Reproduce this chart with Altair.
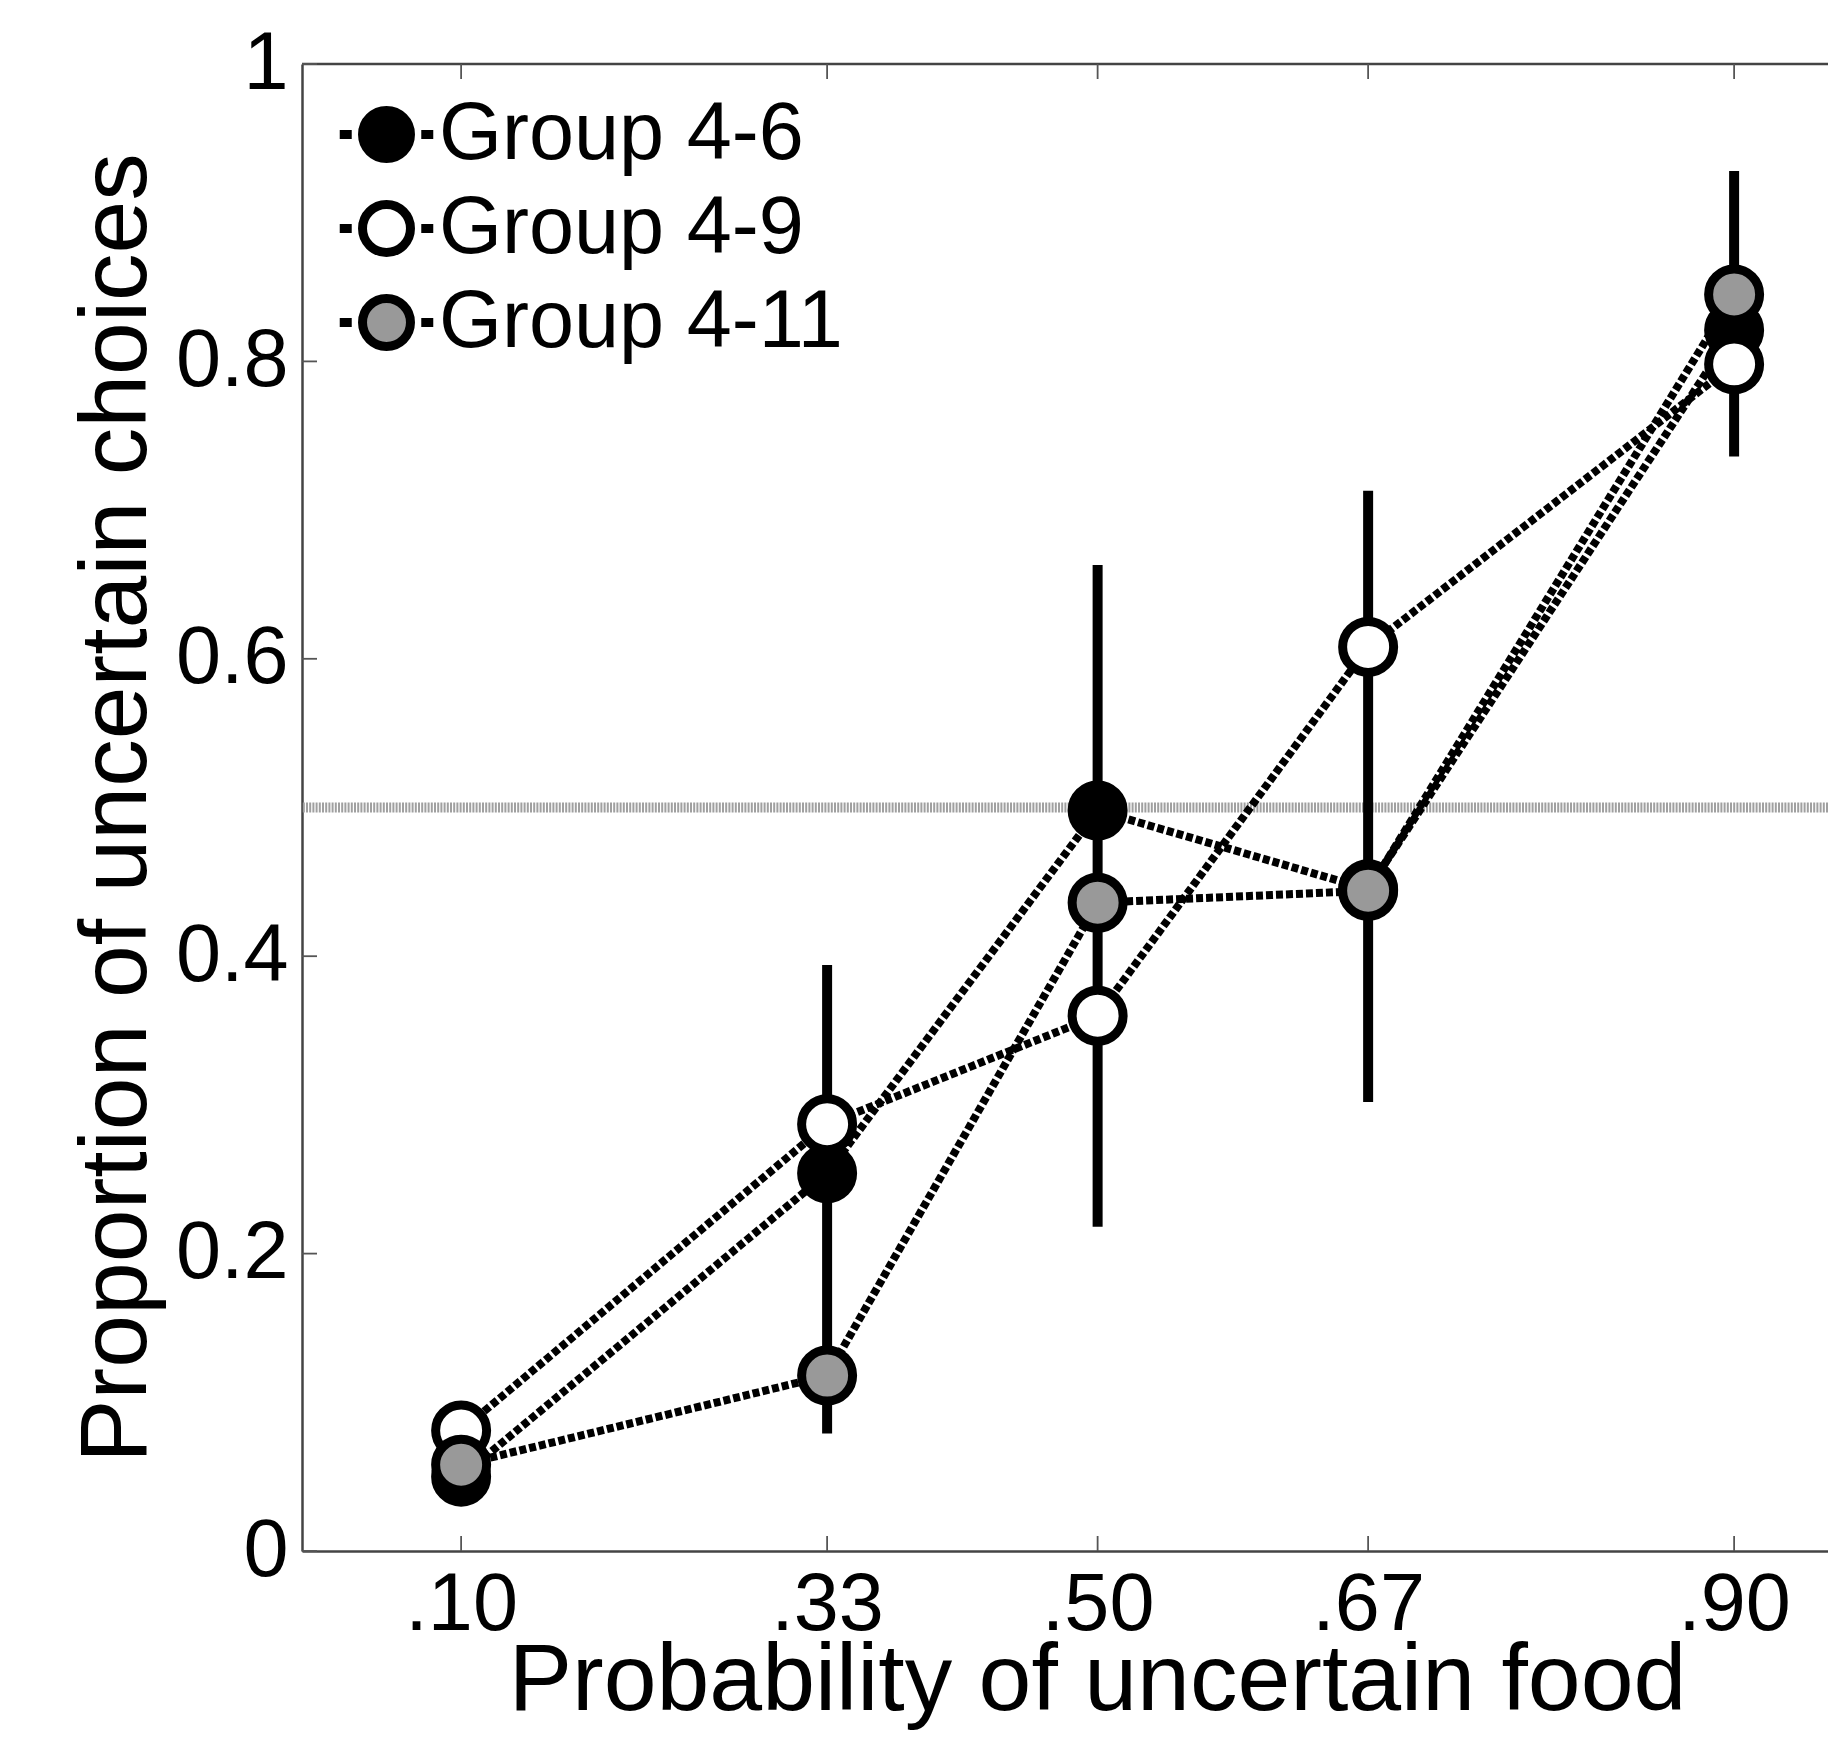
import altair as alt
import pandas as pd

# ---------------- data ----------------
prob_levels = [0.10, 0.33, 0.50, 0.67, 0.90]
groups = ["Group 4-6", "Group 4-9", "Group 4-11"]
group_fill = ["#000000", "#ffffff", "#999999"]

prop_4_6 = [0.050, 0.254, 0.498, 0.445, 0.821]
prop_4_9 = [0.081, 0.287, 0.360, 0.608, 0.798]
prop_4_11 = [0.058, 0.118, 0.436, 0.444, 0.845]

err_x = [0.33, 0.50, 0.67, 0.90]
err_low = [0.079, 0.218, 0.302, 0.736]
err_high = [0.394, 0.663, 0.713, 0.928]

y_ticks = [0.0, 0.2, 0.4, 0.6, 0.8, 1.0]
chance_level = [0.5]
top_border = [1.0]

x_title = "Probability of uncertain food"
y_title = "Proportion of uncertain choices"

# ---------------- tables ----------------
rows = []
for g, vals in zip(groups, [prop_4_6, prop_4_9, prop_4_11]):
    for p, v in zip(prob_levels, vals):
        rows.append({"group": g, "p": p, "prop": v})
df = pd.DataFrame(rows)
err_df = pd.DataFrame({"p": err_x, "prop": err_low, "hi": err_high})
xt_df = pd.DataFrame({"p": prob_levels})
yt_df = pd.DataFrame({"prop": y_ticks})
chance_df = pd.DataFrame({"prop": chance_level})
top_df = pd.DataFrame({"prop": top_border})

W, H = 1526, 1487
FONT = "Liberation Sans"
AX = "#444444"
TICK = 15

xs = alt.Scale(domain=[0, 0.959], nice=False, zero=False)
ys = alt.Scale(domain=[0, 1], nice=False, zero=False)

x_axis = alt.Axis(
    values=prob_levels,
    labelExpr="replace(format(datum.value, '.2f'), '0.', '.')",
    labelFontSize=81, labelFont=FONT, labelColor="black", labelPadding=14,
    labelFlush=False, labelOverlap=False,
    ticks=False, tickSize=0, grid=False,
    domainColor=AX, domainWidth=2.5,
    title=x_title, titleFontSize=95, titleFont=FONT, titleFontWeight="normal",
    titleColor="black", titleBaseline="alphabetic", titleAlign="center",
    titleX=795, titleY=158,
)
y_axis = alt.Axis(
    values=y_ticks, format=".1~f",
    labelFontSize=81, labelFont=FONT, labelColor="black", labelPadding=14,
    labelFlush=False, labelOverlap=False,
    ticks=False, tickSize=0, grid=False,
    domainColor=AX, domainWidth=2.5,
    title=y_title, titleFontSize=95, titleFont=FONT, titleFontWeight="normal",
    titleColor="black", titleBaseline="alphabetic", titleAngle=270,
    titleX=-157, titleY=H / 2,
)


def X(field="p"):
    return alt.X(f"{field}:Q", scale=xs, axis=x_axis)


def Y(field="prop"):
    return alt.Y(f"{field}:Q", scale=ys, axis=y_axis)


chance = alt.Chart(chance_df).mark_rule(
    color="#a0a0a0", strokeWidth=10, strokeDash=[2, 1.2]
).encode(y=Y())

top = alt.Chart(top_df).mark_rule(color=AX, strokeWidth=2.5).encode(y=Y())

xt_bottom = alt.Chart(xt_df).mark_rule(color="#555555", strokeWidth=1.8).encode(
    x=X(), y=alt.value(H), y2=alt.value(H - TICK)
)
xt_top = alt.Chart(xt_df).mark_rule(color="#555555", strokeWidth=1.8).encode(
    x=X(), y=alt.value(0), y2=alt.value(TICK)
)
yt_left = alt.Chart(yt_df).mark_rule(color="#555555", strokeWidth=1.8).encode(
    y=Y(), x=alt.value(0), x2=alt.value(TICK)
)

lines = alt.Chart(df).mark_line(
    color="black", strokeWidth=8, strokeDash=[7, 3], strokeCap="butt"
).encode(
    x=X(),
    y=Y(),
    detail="group:N",
    order="p:Q",
)

errs = alt.Chart(err_df).mark_rule(color="black", strokeWidth=10).encode(
    x=X(),
    y=Y(),
    y2="hi:Q",
)

SYMBOL = "M1,0A1,1,0,1,1,-1,0A1,1,0,1,1,1,0Z M-1.95,0L-1.45,0 M1.45,0L1.95,0"

points = alt.Chart(df).mark_point(
    shape="circle", filled=True, size=2600, stroke="black", strokeWidth=9, opacity=1
).encode(
    x=X(),
    y=Y(),
    fill=alt.Fill(
        "group:N",
        scale=alt.Scale(domain=groups, range=group_fill),
        legend=alt.Legend(
            orient="none", legendX=44, legendY=30, title=None, padding=0,
            symbolType=SYMBOL, symbolSize=2300, symbolStrokeColor="black",
            symbolStrokeWidth=9, symbolOpacity=1,
            labelFontSize=81, labelFont=FONT, labelColor="black",
            labelOffset=12, labelLimit=1000, rowPadding=9,
        ),
    ),
)

chart = alt.layer(
    chance, top, xt_bottom, xt_top, yt_left, lines, errs, points
).properties(
    width=W, height=H,
    padding={"left": 294, "top": 56, "right": 0, "bottom": 179},
    autosize=alt.AutoSizeParams(type="none"),
    background="white",
).configure_view(stroke=None).configure(font=FONT)

chart.save("out.html", embed_options={"renderer": "svg", "actions": False})
